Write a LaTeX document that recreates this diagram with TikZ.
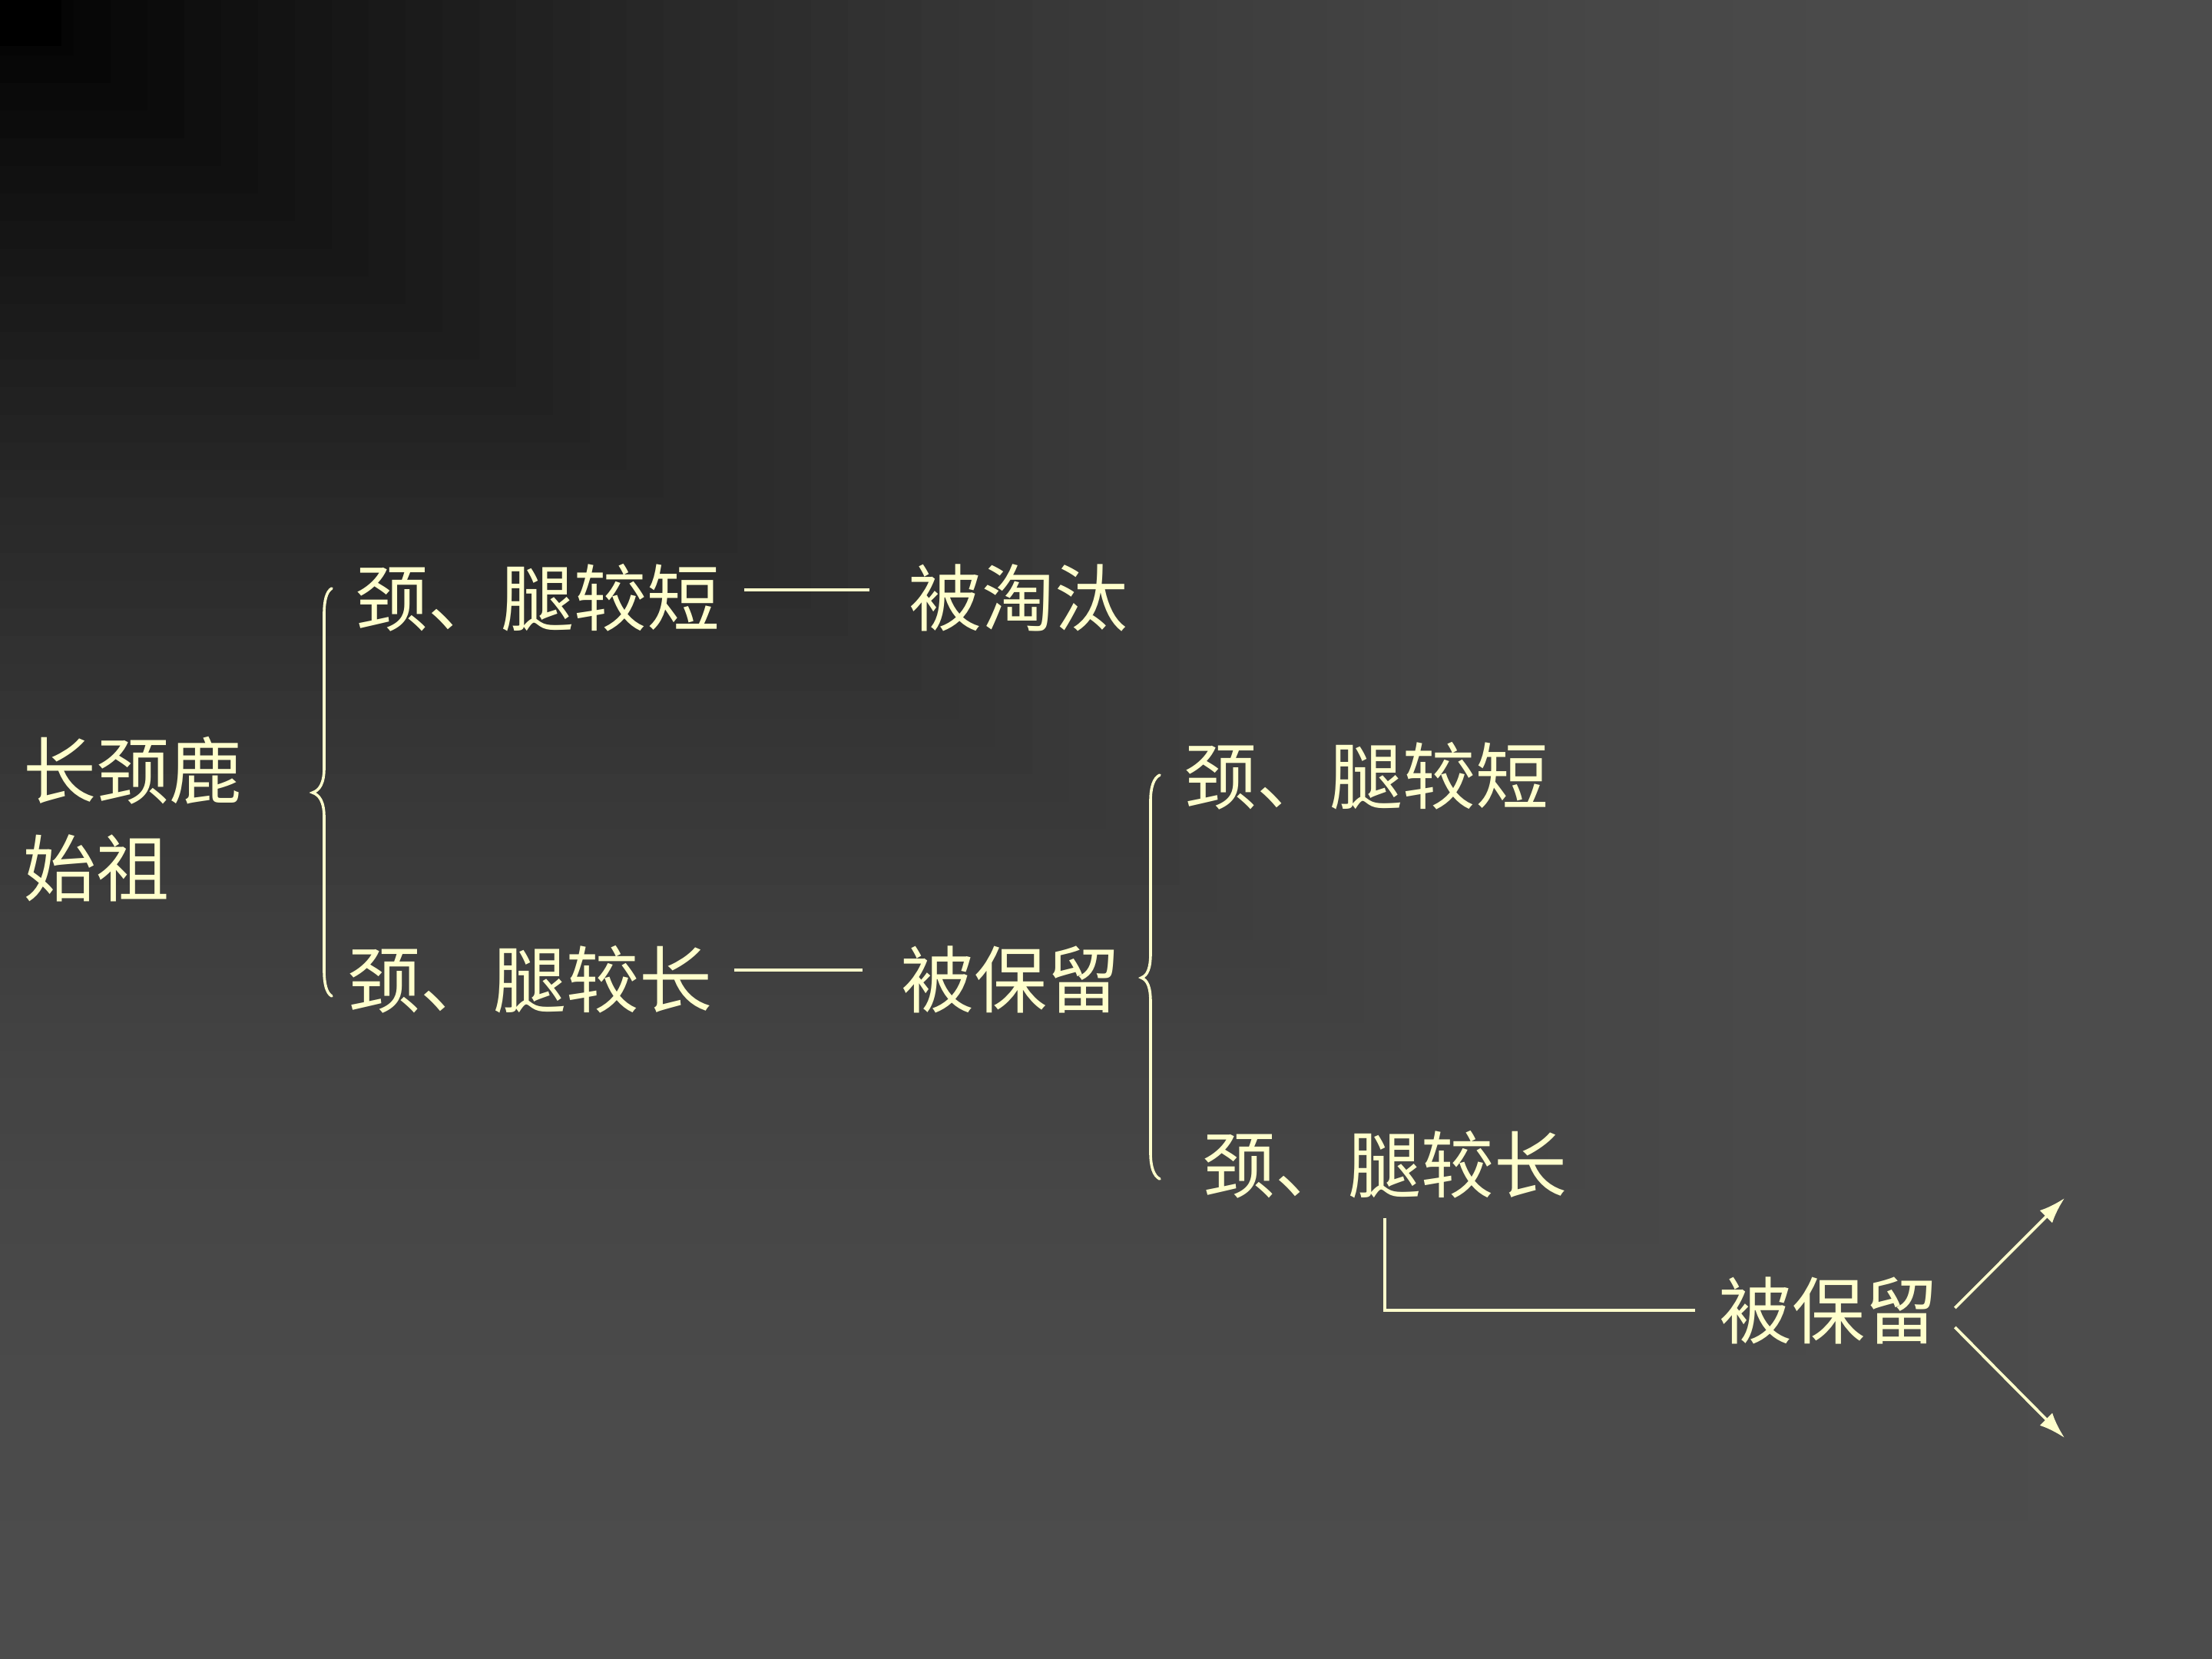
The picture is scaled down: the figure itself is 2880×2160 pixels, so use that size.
\documentclass[tikz,border=0pt]{standalone}
\usepackage{fontspec}
\newfontfamily\cjk{Noto Sans CJK SC}
\usetikzlibrary{arrows.meta}
\definecolor{cream}{HTML}{FFFFCC}
\tikzset{
  lbl/.style={font=\cjk\fontsize{27}{32}\selectfont, text=cream, inner sep=0pt, anchor=west},
  conn/.style={draw=cream, line width=0.38mm},
  arr/.style={conn, -{Latex[length=3.4mm,width=2.3mm]}},
  bracestroke/.style={draw=cream, line width=0.36mm, line cap=round}
}
\begin{document}
\begin{tikzpicture}[x=0.01cm, y=-0.01cm]
\useasboundingbox (0,0) rectangle (2880,2160);
% background: rectangular gradient from the top-left corner
\foreach \i in {60,59,...,1}{
  \pgfmathsetmacro\t{\i/60}
  \pgfmathsetmacro\g{76*(1-(1-\t)^2)/255}
  \definecolor{bgc}{gray}{\g}
  \fill[bgc] (0,0) rectangle ({2880*\t},{2160*\t});
}
\fill[black] (0,0) rectangle (80,60);

% texts
\node[lbl] (anc1) at (30,1003) {长颈鹿};
\node[lbl] (anc2) at (30,1130) {始祖};
\node[lbl] (sA) at (462,778) {颈、腿较短};
\node[lbl] (kA) at (1183,778) {被淘汰};
\node[lbl] (sB) at (452,1275) {颈、腿较长};
\node[lbl] (kB) at (1173,1275) {被保留};
\node[lbl] (sC) at (1541,1010) {颈、腿较短};
\node[lbl] (lC) at (1565,1516) {颈、腿较长};
\node[lbl] (kC) at (2238,1706) {被保留};

% braces
\draw[bracestroke] (432,766) .. controls (425,770) and (422,782) .. (422,800)
  -- (422,1000) .. controls (422,1020) and (416,1029) .. (407,1032)
  .. controls (416,1035) and (422,1044) .. (422,1064)
  -- (422,1263) .. controls (422,1281) and (425,1293) .. (432,1297);
\draw[bracestroke] (1510,1009) .. controls (1502,1013) and (1498,1025) .. (1498,1043)
  -- (1498,1241) .. controls (1498,1261) and (1494,1270) .. (1486,1273)
  .. controls (1494,1276) and (1498,1285) .. (1498,1305)
  -- (1498,1501) .. controls (1498,1519) and (1502,1531) .. (1510,1535);

% connectors
\draw[conn, shorten <=0.31cm, shorten >=0.51cm] ([yshift=0.1cm]sA.east) -- ([yshift=0.1cm]kA.west);
\draw[conn, shorten <=0.28cm, shorten >=0.50cm] ([yshift=0.12cm]sB.east) -- ([yshift=0.12cm]kB.west);
\draw[conn, shorten <=0.25cm, shorten >=0.31cm] (lC.south) |- (kC.west);

\coordinate (tU) at (2688,1560);
\coordinate (tD) at (2688,1872);
\draw[arr] ([xshift=0.21cm,yshift=0.03cm]kC.east) -- (tU);
\draw[arr] ([xshift=0.21cm,yshift=-0.22cm]kC.east) -- (tD);
\end{tikzpicture}
\end{document}
